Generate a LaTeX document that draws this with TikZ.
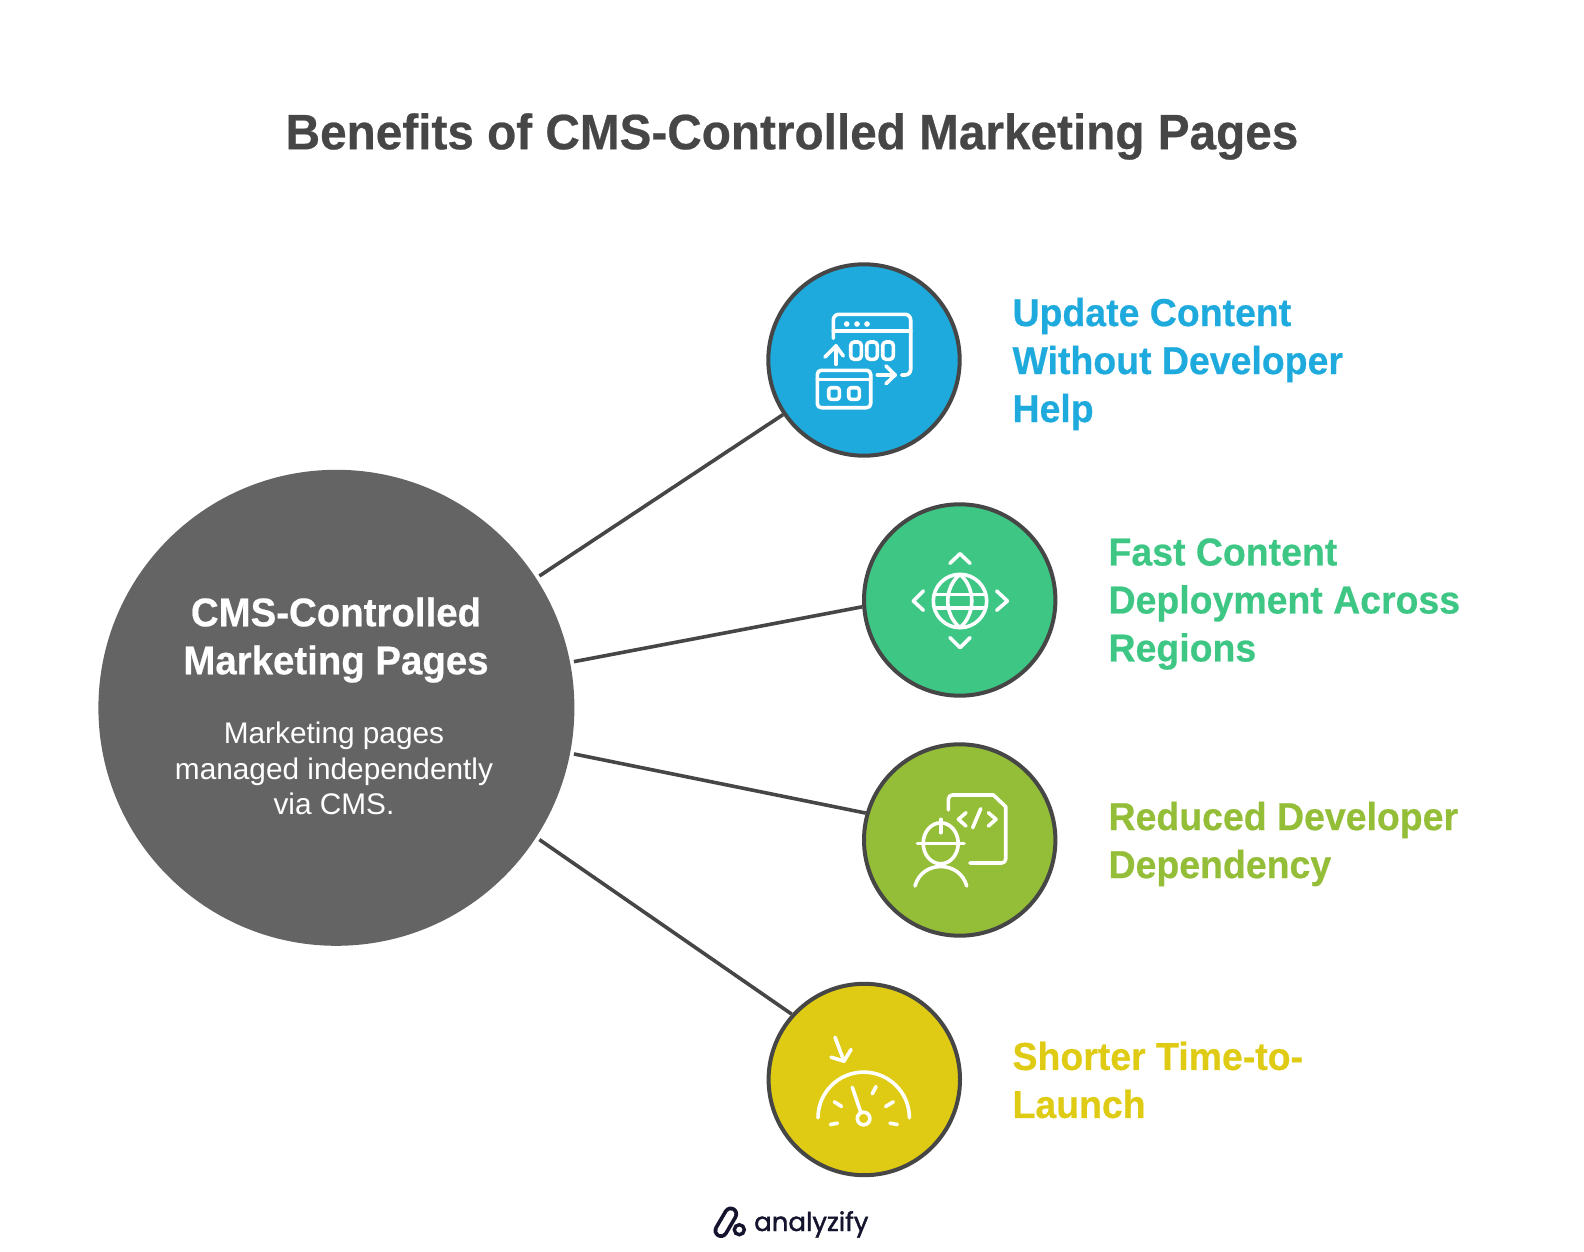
\documentclass[tikz,border=0pt]{standalone}
\usepackage{fontspec}
\setmainfont{Liberation Sans}
\newfontfamily\headfont[FakeStretch=0.96, BoldFeatures={FakeBold=0.5}]{Liberation Sans}
\newfontfamily\logofont[FakeBold=1.5]{Poppins}
\definecolor{slate-grey}{HTML}{646464}
\definecolor{line-grey}{HTML}{464646}
\definecolor{update-blue}{HTML}{1EAADC}
\definecolor{fast-green}{HTML}{3EC684}
\definecolor{dev-olive}{HTML}{94BD38}
\definecolor{launch-gold}{HTML}{DFCB13}
\definecolor{logo-ink}{HTML}{14142E}
\begin{document}
\begin{tikzpicture}[x=1pt, y=-1pt,
      spoke/.style={draw=line-grey, line width=3.6pt},
      hub/.style={circle, fill=slate-grey, minimum size=476pt, inner sep=0pt, outer sep=4pt},
      badge/.style={circle, draw=line-grey, line width=4pt, minimum size=191.4pt, inner sep=0pt},
      topic/.style={anchor=west, align=left, font=\fontsize{39}{48}\headfont\bfseries},
      glyph/.style={draw=white, line width=3.6pt, line cap=round, line join=round}]
    \useasboundingbox (0,0) rectangle (1584,1252);
    \node[font=\fontsize{49.7}{56}\headfont\bfseries, text=line-grey] (title) at (792,136.5)
          {Benefits of CMS-Controlled Marketing Pages};
    \node[hub] (main) at (336.4,707.8) {};
    \node[badge, fill=update-blue] (update) at (864,360) {};
    \node[badge, fill=fast-green] (fast) at (959.7,600) {};
    \node[badge, fill=dev-olive] (dev) at (959.7,840) {};
    \node[badge, fill=launch-gold] (launch) at (864.3,1079.5) {};
    \draw[spoke] (main.33) -- (update.214.5);
    \draw[spoke] (main.11.5) -- (fast.184.8);
    \draw[spoke] (main.-11.1) -- (dev.164);
    \draw[spoke] (main.-33.8) -- (launch.138);
    \node[align=center, text=white, font=\fontsize{40}{48}\headfont\bfseries] (mainhead) at (336,640)
          {CMS-Controlled\\Marketing Pages};
    \node[align=center, text=white, font=\fontsize{29.8}{35.5}\selectfont] (mainsub) at (334,768.5)
          {Marketing pages\\managed independently\\via CMS.};
    \node[topic, text=update-blue] (updatetext) at (1009,364) {Update Content\\Without Developer\\Help};
    \node[topic, text=fast-green] (fasttext) at (1105,604) {Fast Content\\Deployment Across\\Regions};
    \node[topic, text=dev-olive] (devtext) at (1105,844) {Reduced Developer\\Dependency};
    \node[topic, text=launch-gold] (launchtext) at (1009,1080) {Shorter Time-to-\\Launch};
    \begin{scope}[shift={(update.center)}]
      \draw[glyph] (-30.7,-21.7) -- (-30.7,-40) arc[start angle=180, end angle=270, radius=5.7]
            -- (41,-45.7) arc[start angle=270, end angle=360, radius=5.7] -- (46.7,9.3)
            arc[start angle=0, end angle=90, radius=5.7] -- (37.7,15);
      \draw[glyph] (-30.7,-29) -- (46.7,-29);
      \foreach \dotx in {-17.3,-7,3}
        \fill[white] (\dotx,-36) circle[radius=2.8];
      \foreach \pillx in {-13.3,2.7,18.7}
        \draw[glyph, rounded corners=3.5pt] (\pillx,-18) rectangle (\pillx+10.6,-0.7);
      \draw[glyph] (-28,4.3) -- (-28,-14);
      \draw[glyph] (-39,-3) -- (-28,-14) -- (-20.7,-4);
      \draw[glyph] (13.3,15) -- (31,15);
      \draw[glyph] (22,6) -- (31,15) -- (22,23.7);
      \draw[glyph, rounded corners=4pt] (-46.7,10.3) rectangle (6.7,47.7);
      \draw[glyph] (-46.7,19.3) -- (6.7,19.3);
      \draw[glyph, rounded corners=2.5pt] (-35.3,27.7) rectangle (-24.7,39.3);
      \draw[glyph, rounded corners=2.5pt] (-15.3,27.7) rectangle (-4.7,39.3);
    \end{scope}
    \begin{scope}[shift={(fast.center)}]
      \draw[glyph] (0.3,1) circle[radius=26.7];
      \draw[glyph] (0.3,-25.7) .. controls (-16,-12) and (-16,14) .. (0.3,27.7)
            .. controls (16,14) and (16,-12) .. (0.3,-25.7);
      \draw[glyph] (-24,-5.7) -- (24.6,-5.7);
      \draw[glyph] (-24,7.7) -- (24.6,7.7);
      \draw[glyph] (-9.7,-36.7) -- (0.3,-46.3) -- (10.3,-36.7);
      \draw[glyph] (-9.7,37.7) -- (0.3,47.7) -- (10.3,37.7);
      \draw[glyph] (-36.3,-9) -- (-46.3,1) -- (-36.3,10.3);
      \draw[glyph] (37,-9) -- (47.7,1) -- (37,10.3);
    \end{scope}
    \begin{scope}[shift={(dev.center)}]
      \draw[glyph] (-11.3,-30) -- (-11.3,-41) arc[start angle=180, end angle=270, radius=4] -- (33.7,-45)
            -- (46,-33.3) -- (46,19) arc[start angle=0, end angle=90, radius=4] -- (10.3,23);
      \draw[glyph] (6.3,-27.3) -- (-1.3,-20.7) -- (6.3,-14);
      \draw[glyph] (21,-31.3) -- (13,-12.3);
      \draw[glyph] (28.7,-27.3) -- (36.3,-20.7) -- (28.7,-14);
      \draw[glyph] (-19,3.3) ellipse[x radius=17.5, y radius=20.5];
      \draw[glyph] (-42.3,3.3) -- (4.3,3.3);
      \draw[glyph] (-19,-20.7) -- (-19,-7.3);
      \draw[glyph] (-44.7,46) .. controls (-38,20) and (0,20) .. (7,46);
    \end{scope}
    \begin{scope}[shift={(launch.center)}]
      \draw[glyph] (-46.3,38.3) arc[start angle=180, end angle=360, radius=45.7];
      \draw[glyph] (-0.7,39) circle[radius=6.3];
      \draw[glyph] (-12,7.7) -- (-3.7,32.3);
      \draw[glyph] (-30,22.3) -- (-22.7,27);
      \draw[glyph] (8,14.3) -- (11.7,7);
      \draw[glyph] (21.3,27) -- (29,22.3);
      \draw[glyph] (-34,45) -- (-26.7,43.7);
      \draw[glyph] (25.7,43.7) -- (33,45);
      \draw[glyph] (-29.3,-42.3) -- (-20.3,-18.3);
      \draw[glyph] (-33.3,-22.3) -- (-20.3,-18.3) -- (-13.3,-30);
    \end{scope}
    \draw[logo-ink, line width=15pt, line cap=round] (721,1230.5) -- (730.7,1214);
    \draw[white, line width=7.5pt, line cap=round] (721,1230.5) -- (730.7,1214);
    \draw[logo-ink, line width=3.4pt] (739.3,1229.7) circle[radius=5];
    \node[anchor=base west, inner sep=0pt, text=logo-ink, font=\fontsize{26}{30}\logofont] (logotext) at (754,1231) {analyzify};
  \end{tikzpicture}
\end{document}
